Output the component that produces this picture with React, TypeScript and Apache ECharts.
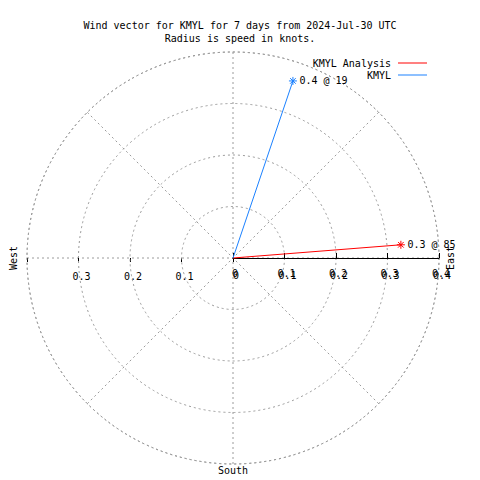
import React, { useEffect, useRef } from "react";
import * as echarts from "echarts";

const titleLines = ["Wind vector for KMYL for 7 days from 2024-Jul-30 UTC", "Radius is speed in knots."];
const seriesNames = ["KMYL Analysis", "KMYL"];
const seriesColors = ["#ff0000", "#1a80ff"];
const speeds = [0.327, 0.363];
const directions = [85.5, 18.7];
const endLabels = ["0.3 @ 85", "0.4 @ 19"];
const radiusTicks = [0, 0.1, 0.2, 0.3, 0.4];
const compassLabels = [
  { text: "West", dir: 270 },
  { text: "East", dir: 90 },
  { text: "South", dir: 180 },
];

const MONO = "DejaVu Sans Mono";
const CENTER = [233, 258];
const RADIUS = 206;

const star = "path://M0,-5L0,5M-5,0L5,0M-3.5,-3.5L3.5,3.5M-3.5,3.5L3.5,-3.5";
const fmt = (v: number) => (v === 0 ? "0" : v.toFixed(1));

export default function App() {
  const ref = useRef<HTMLDivElement>(null);
  useEffect(() => {
    const chart = echarts.init(ref.current!, null, { renderer: "svg" });
    const toAngle = (d: number) => ((90 - d) % 360 + 360) % 360;
    const grid = { color: "#9a9a9a", type: [2, 3] as any, width: 1 };
    const option: any = {
      animation: false,
      title: {
        text: titleLines.join("\n"),
        left: "center",
        top: 14,
        textStyle: { fontFamily: MONO, fontSize: 10, fontWeight: "normal", color: "#000", lineHeight: 13 },
      },
      legend: {
        orient: "vertical",
        right: 48,
        top: 53,
        align: "right",
        icon: "rect",
        itemWidth: 29,
        itemHeight: 1,
        itemGap: 2,
        data: seriesNames,
        textStyle: { fontFamily: MONO, fontSize: 10, color: "#000", padding: [0, 2, 0, 0] },
      },
      polar: [
        { center: CENTER, radius: RADIUS },
        { center: CENTER, radius: RADIUS },
      ],
      angleAxis: [
        {
          polarIndex: 0,
          type: "value",
          min: 0,
          max: 360,
          interval: 45,
          startAngle: 0,
          clockwise: false,
          axisLine: { show: true, lineStyle: grid },
          axisTick: { show: false },
          axisLabel: { show: false },
          splitLine: { show: true, lineStyle: grid },
        },
        {
          polarIndex: 1,
          type: "value",
          min: 0,
          max: 360,
          startAngle: 180,
          clockwise: false,
          axisLine: { show: false },
          axisTick: { show: false },
          axisLabel: { show: false },
          splitLine: { show: false },
        },
      ],
      radiusAxis: [
        {
          polarIndex: 0,
          type: "value",
          min: radiusTicks[0],
          max: radiusTicks[radiusTicks.length - 1],
          interval: 0.1,
          z: 5,
          axisLine: { show: true, lineStyle: { color: "#000", width: 1 } },
          axisTick: { show: true, length: 5, lineStyle: { color: "#000" } },
          axisLabel: {
            show: true,
            fontFamily: MONO,
            fontSize: 10,
            color: "#000",
            margin: -22,
            padding: [0, 0, 0, 6],
            formatter: fmt,
          },
          splitLine: { show: true, lineStyle: grid },
        },
        {
          polarIndex: 1,
          type: "value",
          min: radiusTicks[0],
          max: radiusTicks[radiusTicks.length - 1],
          interval: 0.1,
          axisLine: { show: false },
          axisTick: { show: true, length: 4, lineStyle: { color: "#000" } },
          axisLabel: {
            show: true,
            fontFamily: MONO,
            fontSize: 10,
            color: "#000",
            margin: 13,
            padding: [0, 0, 0, 6],
            formatter: (v: number) => (v > 0.05 && v < 0.35 ? v.toFixed(1) : ""),
          },
          splitLine: { show: false },
        },
      ],
      series: seriesNames.map((name, i) => ({
        name,
        type: "line",
        coordinateSystem: "polar",
        polarIndex: 0,
        color: seriesColors[i],
        lineStyle: { color: seriesColors[i], width: 1 },
        z: 10,
        data: [
          { value: [0, toAngle(directions[i])], symbol: "none" },
          {
            value: [speeds[i], toAngle(directions[i])],
            symbol: star,
            symbolSize: 8,
            itemStyle: { color: "none", borderColor: seriesColors[i], borderWidth: 1 },
            label: {
              show: true,
              position: "right",
              distance: 0,
              formatter: endLabels[i],
              fontFamily: MONO,
              fontSize: 10,
              color: "#000",
            },
          },
        ],
      })),
    };
    chart.setOption(option);

    const graphics: any[] = [];
    compassLabels.forEach((c) => {
      const p = chart.convertToPixel({ polarIndex: 0 } as any, [radiusTicks[radiusTicks.length - 1], toAngle(c.dir)]) as number[];
      if (c.text === "South") {
        graphics.push({ type: "text", x: p[0], y: p[1] + 1, style: { text: c.text, font: `10px '${MONO}'`, fill: "#000", align: "center", verticalAlign: "top" } });
      } else {
        const dx = c.text === "West" ? -14 : 11;
        graphics.push({ type: "text", x: p[0] + dx, y: p[1], rotation: Math.PI / 2, z: 30, style: { text: c.text, font: `10px '${MONO}'`, fill: "#000", align: "center", verticalAlign: "middle" } });
      }
    });
    radiusTicks.forEach((r) => {
      const p = chart.convertToPixel({ polarIndex: 0 } as any, [r, 0]) as number[];
      graphics.push({ type: "text", x: p[0] + 2, y: p[1] + 15, z: 20, style: { text: fmt(r), font: `10px '${MONO}'`, fill: "#000", align: "center", verticalAlign: "middle" } });
    });
    chart.setOption({ graphic: graphics });
    return () => chart.dispose();
  }, []);
  return <div ref={ref} style={{ position: "fixed", left: 0, top: 0, width: 480, height: 480, background: "#fff" }} />;
}
